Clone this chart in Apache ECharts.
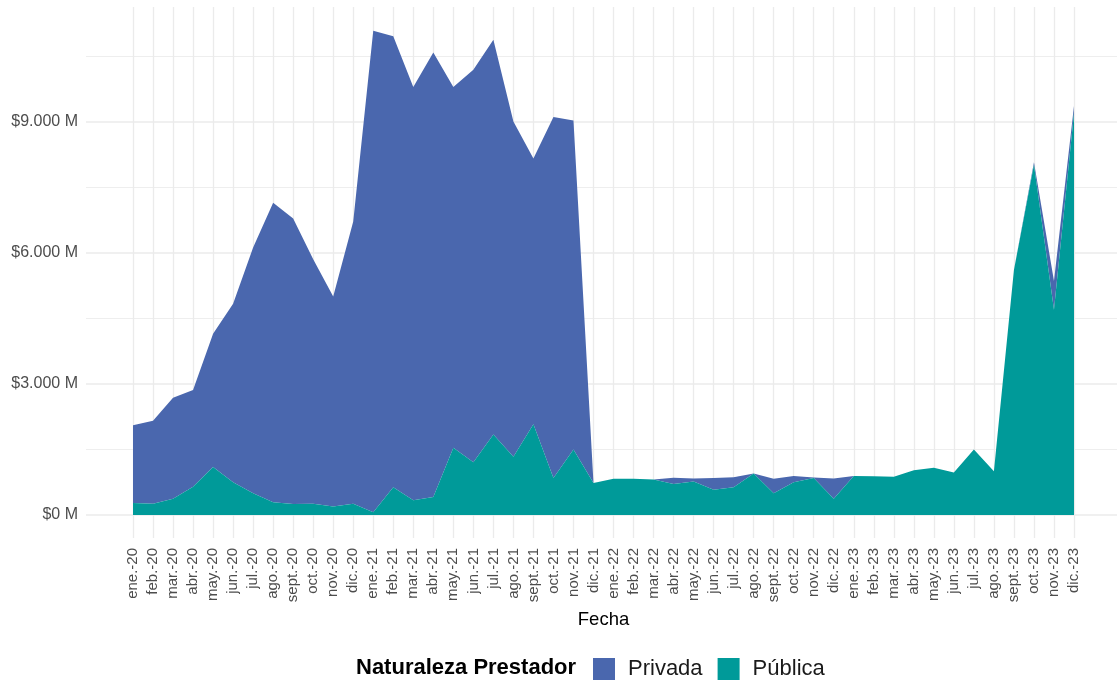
<!DOCTYPE html>
<html>
<head>
<meta charset="utf-8">
<script src="https://cdn.jsdelivr.net/npm/echarts@6/dist/echarts.min.js"></script>
<style>
  html, body { margin: 0; padding: 0; background: #fff; }
  #chart { width: 1117px; height: 683px; }
</style>
</head>
<body>
<div id="chart"></div>
<script>
// ---------------------------------------------------
// Datos (millones de pesos)
// ---------------------------------------------------
const meses = [
  "ene.-20","feb.-20","mar.-20","abr.-20","may.-20","jun.-20","jul.-20","ago.-20","sept.-20","oct.-20","nov.-20","dic.-20",
  "ene.-21","feb.-21","mar.-21","abr.-21","may.-21","jun.-21","jul.-21","ago.-21","sept.-21","oct.-21","nov.-21","dic.-21",
  "ene.-22","feb.-22","mar.-22","abr.-22","may.-22","jun.-22","jul.-22","ago.-22","sept.-22","oct.-22","nov.-22","dic.-22",
  "ene.-23","feb.-23","mar.-23","abr.-23","may.-23","jun.-23","jul.-23","ago.-23","sept.-23","oct.-23","nov.-23","dic.-23"
];

const publica = [
  276, 260, 371, 647, 1097, 750, 497, 292, 253, 260, 197, 260,
  63, 632, 339, 411, 1540, 1208, 1840, 1334, 2076, 845, 1500, 734,
  829, 829, 813, 711, 766, 576, 632, 947, 497, 750, 845, 371,
  892, 884, 876, 1026, 1082, 971, 1500, 1003, 5605, 8013, 4697, 9198
];

const privada = [
  1777, 1895, 2313, 2211, 3048, 4082, 5622, 6853, 6529, 5590, 4801, 6451,
  11014, 10318, 9451, 10168, 8250, 8977, 9031, 7666, 6079, 8258, 7524, 0,
  0, 0, 0, 142, 71, 269, 229, 0, 332, 142, 15, 466,
  0, 0, 0, 0, 0, 0, 0, 0, 0, 56, 653, 157
];

const yTicks = [0, 3000, 6000, 9000];

const colores = { Privada: "#4A67AE", Publica: "#009A99" };

// tope del eje y (pixel 0 del panel)
const yMax = 11780;

// ---------------------------------------------------
// Formato de etiquetas
// ---------------------------------------------------
function formatoMillones(v) {
  const s = String(Math.round(v)).replace(/\B(?=(\d{3})+(?!\d))/g, ".");
  return "$" + s + " M";
}

const fuente = "'Liberation Sans', Arial, Helvetica, sans-serif";
const transp = "rgba(0,0,0,0)";
const chart = echarts.init(document.getElementById("chart"));

const option = {
  backgroundColor: "#fff",
  animation: false,
  title: {
    text: "Naturaleza Prestador",
    left: 351,
    top: 652,
    textStyle: { fontFamily: fuente, fontSize: 22, fontWeight: "bold", color: "#000" }
  },
  legend: {
    data: ["Privada", "Pública"],
    left: 588,
    top: 653,
    icon: "rect",
    itemWidth: 22,
    itemHeight: 22,
    itemGap: 15,
    textStyle: { fontFamily: fuente, fontSize: 22, color: "#1a1a1a", padding: [0, 0, 0, 8] }
  },
  grid: [
    // datos
    { left: 133, right: 43, top: 0, bottom: 168 },
    // líneas horizontales
    { left: 86, right: -4, top: 0, bottom: 168 },
    // líneas verticales y etiquetas de fecha
    { left: 133, right: 43, top: 7, bottom: 145 }
  ],
  xAxis: [
    { gridIndex: 0, type: "category", data: meses, boundaryGap: false, show: false },
    { gridIndex: 1, type: "value", min: 0, max: 1, show: false },
    {
      gridIndex: 2, type: "category", data: meses, boundaryGap: false,
      axisLine: { show: false }, axisTick: { show: false },
      axisLabel: { rotate: 90, margin: 10, interval: 0, fontFamily: fuente, fontSize: 15, color: "#4D4D4D" },
      splitLine: { show: true, interval: 0, lineStyle: { color: "#EBEBEB", width: 1.3 } },
      name: "Fecha", nameLocation: "middle", nameGap: 70,
      nameTextStyle: { fontFamily: fuente, fontSize: 18.5, color: "#000" }
    }
  ],
  yAxis: [
    { gridIndex: 0, type: "value", min: 0, max: yMax, show: false },
    {
      gridIndex: 1, type: "value", min: 0, max: yMax, interval: 3000,
      axisLine: { show: false }, axisTick: { show: false },
      axisLabel: {
        margin: 8, fontFamily: fuente, fontSize: 16, color: "#4D4D4D",
        formatter: v => (yTicks.indexOf(v) >= 0 ? formatoMillones(v) : "")
      },
      splitLine: { show: true, lineStyle: { color: ["#EBEBEB", "#EBEBEB", "#EBEBEB", "#EBEBEB", transp], width: 1.6 } }
    },
    {
      gridIndex: 1, type: "value", min: 0, max: yMax, interval: 1500,
      axisLine: { show: false }, axisTick: { show: false }, axisLabel: { show: false },
      splitLine: { show: true, lineStyle: { color: [transp, "#EEEEEE", transp, "#EEEEEE", transp, "#EEEEEE", transp, "#EEEEEE", transp], width: 1.2 } }
    },
    { gridIndex: 2, type: "value", min: 0, max: 1, show: false }
  ],
  series: [
    {
      name: "Pública", type: "line", stack: "total",
      xAxisIndex: 0, yAxisIndex: 0,
      data: publica, symbol: "none",
      lineStyle: { width: 0 },
      itemStyle: { color: colores.Publica },
      areaStyle: { color: colores.Publica, opacity: 1 },
      z: 3
    },
    {
      name: "Privada", type: "line", stack: "total",
      xAxisIndex: 0, yAxisIndex: 0,
      data: privada, symbol: "none",
      lineStyle: { width: 0 },
      itemStyle: { color: colores.Privada },
      areaStyle: { color: colores.Privada, opacity: 1 },
      z: 2
    }
  ]
};

chart.setOption(option);
</script>
</body>
</html>
